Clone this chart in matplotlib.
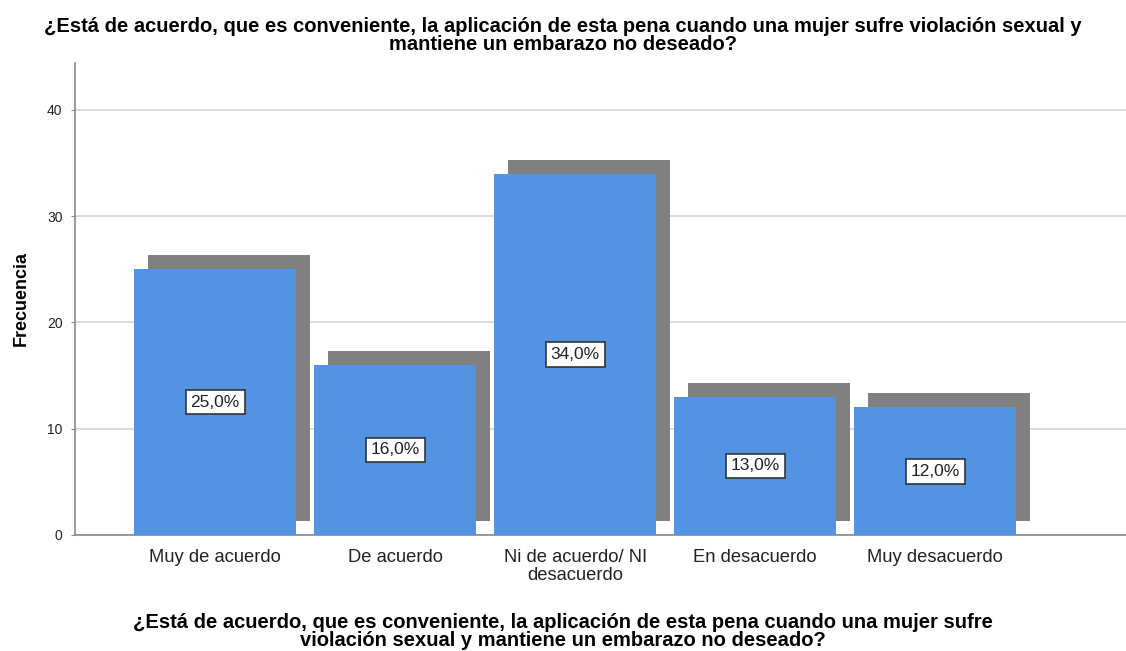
import matplotlib
matplotlib.use("Agg")
import matplotlib.pyplot as plt
from matplotlib.patches import Rectangle
import matplotlib.transforms as mtransforms

plt.rcParams['font.family'] = ['Liberation Sans', 'DejaVu Sans']

categories = ["Muy de acuerdo", "De acuerdo", "Ni de acuerdo/ NI\ndesacuerdo",
              "En desacuerdo", "Muy desacuerdo"]
frecuencia = [25, 16, 34, 13, 12]
porcentaje = ["25,0%", "16,0%", "34,0%", "13,0%", "12,0%"]
yticks = [0, 10, 20, 30, 40]
title_lines = ["¿Está de acuerdo, que es conveniente, la aplicación de esta pena cuando una mujer sufre violación sexual y",
               "mantiene un embarazo no deseado?"]
xlabel_lines = ["¿Está de acuerdo, que es conveniente, la aplicación de esta pena cuando una mujer sufre",
                "violación sexual y mantiene un embarazo no deseado?"]

W, H = 1126, 651
fig = plt.figure(figsize=(W / 100, H / 100), dpi=100)
ax = fig.add_axes([75 / W, 1 - 535 / H, (W - 75) / W, (535 - 63) / H])

bar_color = "#5294E2"
shadow_color = "#808080"
width = 0.9
x = list(range(len(categories)))

# shadow: offset by pixels
offset = mtransforms.offset_copy(ax.transData, fig=fig, x=14, y=14, units='dots')
for xi, v in zip(x, frecuencia):
    ax.add_patch(Rectangle((xi - width / 2, 0), width, v, transform=offset,
                           facecolor=shadow_color, edgecolor='none', zorder=2))
ax.bar(x, frecuencia, width=width, color=bar_color, edgecolor='none', zorder=3)

for xi, v, lab in zip(x, frecuencia, porcentaje):
    ax.text(xi, v / 2, lab, ha='center', va='center', fontsize=12.5, color='#222222', zorder=5,
            bbox=dict(boxstyle='square,pad=0.28', facecolor='white', edgecolor='#333333', linewidth=1.2))

ax.set_xlim(-0.778, 5.06)
ax.set_ylim(0, 44.4)
ax.set_yticks(yticks)
ax.set_yticklabels([str(t) for t in yticks], fontsize=10, color='#222222')
ax.set_xticks(x)
ax.set_xticklabels(categories, fontsize=13.2, color='#222222', linespacing=1.1)
ax.tick_params(axis='x', length=0, pad=10)
ax.tick_params(axis='y', length=3, color='#888888', pad=6)
ax.yaxis.grid(True, color='#D4D4D4', linewidth=1.2, zorder=0)
ax.set_axisbelow(True)
for s in ['top', 'right']:
    ax.spines[s].set_visible(False)
ax.spines['left'].set_color('#888888')
ax.spines['bottom'].set_color('#888888')
ax.spines['left'].set_linewidth(1.2)
ax.spines['bottom'].set_linewidth(1.2)

ax.set_ylabel("Frecuencia", fontsize=13, fontweight='bold', labelpad=12)

for line, yp in zip(title_lines, [27, 45]):
    fig.text(0.5, 1 - yp / H, line, ha='center', va='center', fontsize=14.5, fontweight='bold')
for line, yp in zip(xlabel_lines, [622, 640]):
    fig.text(0.5, 1 - yp / H, line, ha='center', va='center', fontsize=14.5, fontweight='bold')

fig.savefig("out.png", dpi=100)
